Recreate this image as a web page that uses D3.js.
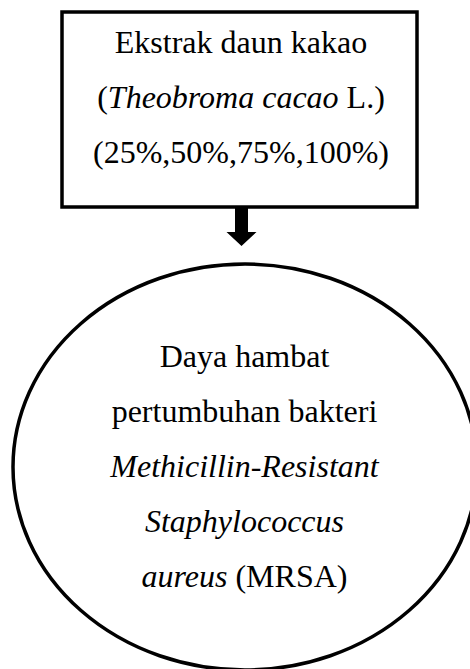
<!DOCTYPE html>
<html>
<head>
<meta charset="utf-8">
<script src="https://cdn.jsdelivr.net/npm/d3@7"></script>
<style>
  body { margin: 0; background: #fff; }
  text { font-family: "Liberation Serif", "Times New Roman", serif; font-size: 32px; fill: #000; }
</style>
</head>
<body>
<div id="diagram"></div>
<script>
// Text of the two nodes, line by line; each segment is [text, italic]
const boxLines = [
    [['Ekstrak daun kakao', false]],
    [['(', false], ['Theobroma cacao', true], [' L.)', false]],
    [['(25%,50%,75%,100%)', false]]
];

const ellipseLines = [
    [['Daya hambat', false]],
    [['pertumbuhan bakteri', false]],
    [['Methicillin-Resistant', true]],
    [['Staphylococcus', true]],
    [['aureus', true], [' (MRSA)', false]]
];

// Set up the SVG canvas
let width = 470;
let height = 669;
let lineHeight = 55;

const svg = d3.select('#diagram')
.append('svg')
.attr('width', width)
.attr('height', height)

// Box at the top
const box = { x: 62, y: 12, w: 355, h: 195 };

svg.append('rect')
.attr('x', box.x)
.attr('y', box.y)
.attr('width', box.w)
.attr('height', box.h)
.attr('fill', 'white')
.attr('stroke', 'black')
.attr('stroke-width', 3.5)

// Arrow from the box down to the ellipse
const arrowX = 241.5;
svg.append('path')
.attr('d', d3.line()([
    [arrowX - 6.5, box.y + box.h],
    [arrowX + 6.5, box.y + box.h],
    [arrowX + 6.5, 232],
    [arrowX + 15, 232],
    [arrowX, 246],
    [arrowX - 15, 232],
    [arrowX - 6.5, 232]
]) + 'Z')
.attr('fill', 'black')

// Ellipse at the bottom
const ell = { cx: 245, cy: 467, rx: 232, ry: 203 };

svg.append('ellipse')
.attr('cx', ell.cx)
.attr('cy', ell.cy)
.attr('rx', ell.rx)
.attr('ry', ell.ry)
.attr('fill', 'none')
.attr('stroke', 'black')
.attr('stroke-width', 3.5)

// Write lines of mixed roman / italic text centred on x
function writeLines(lines, x, firstBaseline) {
    svg.append('g')
    .selectAll('text')
    .data(lines)
    .enter()
    .append('text')
    .attr('x', x)
    .attr('y', (d, i) => firstBaseline + i * lineHeight)
    .attr('text-anchor', 'middle')
    .selectAll('tspan')
    .data((d) => d)
    .enter()
    .append('tspan')
    .attr('font-style', (d) => d[1] ? 'italic' : 'normal')
    .style('white-space', 'pre')
    .text((d) => d[0])
}

writeLines(boxLines, 241, 53);
writeLines(ellipseLines, 244.5, 367);
</script>
</body>
</html>
